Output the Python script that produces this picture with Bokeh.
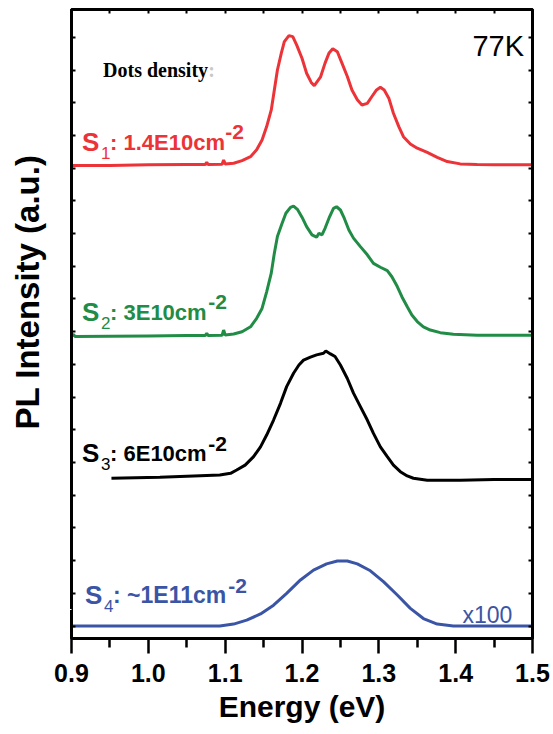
from bokeh.plotting import figure
from bokeh.models import (Range1d, LinearAxis, FixedTicker, Label, Title, NumeralTickFormatter,
                          CustomJSTickFormatter)
from bokeh.embed import file_html
from bokeh.resources import INLINE

# ---------------- data ----------------
energy_s1 = [0.900, 0.950, 1.000, 1.050, 1.074, 1.076, 1.078, 1.096, 1.098, 1.100, 1.111, 1.122,
             1.133, 1.141, 1.148, 1.154, 1.160, 1.164, 1.168, 1.173, 1.177, 1.183, 1.188, 1.193,
             1.200, 1.206, 1.212, 1.216, 1.220, 1.224, 1.230, 1.235, 1.240, 1.246, 1.252, 1.259,
             1.265, 1.272, 1.278, 1.285, 1.291, 1.297, 1.302, 1.307, 1.313, 1.319, 1.326, 1.332,
             1.341, 1.350, 1.363, 1.376, 1.389, 1.406, 1.428, 1.450, 1.500]
intensity_s1 = [14.08, 14.08, 14.10, 14.11, 14.11, 14.18, 14.11, 14.12, 14.25, 14.13, 14.15, 14.23,
                14.35, 14.56, 14.86, 15.27, 15.78, 16.39, 17.00, 17.51, 17.87, 18.05, 18.02, 17.77,
                17.36, 16.90, 16.62, 16.52, 16.65, 16.78, 17.21, 17.51, 17.65, 17.56, 17.21, 16.80,
                16.39, 16.09, 15.93, 15.98, 16.19, 16.39, 16.47, 16.39, 16.14, 15.68, 15.27, 14.96,
                14.74, 14.61, 14.48, 14.33, 14.20, 14.13, 14.11, 14.10, 14.10]

energy_s2 = [0.900, 0.902, 0.905, 0.950, 1.000, 1.050, 1.074, 1.076, 1.078, 1.096, 1.098, 1.100,
             1.111, 1.122, 1.133, 1.141, 1.148, 1.154, 1.160, 1.164, 1.168, 1.174, 1.179, 1.185,
             1.189, 1.194, 1.200, 1.206, 1.213, 1.219, 1.222, 1.226, 1.230, 1.236, 1.241, 1.245,
             1.250, 1.255, 1.261, 1.267, 1.276, 1.285, 1.293, 1.302, 1.311, 1.317, 1.324, 1.330,
             1.337, 1.343, 1.350, 1.358, 1.367, 1.380, 1.397, 1.428, 1.500]
intensity_s2 = [8.85, 8.92, 8.85, 8.86, 8.87, 8.88, 8.88, 8.95, 8.88, 8.89, 9.05, 8.90,
                8.93, 9.00, 9.15, 9.41, 9.71, 10.22, 10.79, 11.40, 11.91, 12.31, 12.62, 12.80,
                12.84, 12.74, 12.50, 12.21, 11.96, 11.89, 12.01, 11.96, 12.16, 12.52, 12.77, 12.82,
                12.72, 12.47, 12.11, 11.86, 11.60, 11.35, 11.09, 10.97, 10.87, 10.68, 10.38, 10.07,
                9.76, 9.51, 9.31, 9.15, 9.05, 8.97, 8.92, 8.89, 8.89]

energy_s3 = [0.952, 1.015, 1.059, 1.093, 1.107, 1.115, 1.126, 1.137, 1.146, 1.154, 1.163, 1.172,
             1.180, 1.189, 1.196, 1.202, 1.211, 1.219, 1.228, 1.231, 1.237, 1.243, 1.250, 1.259,
             1.267, 1.276, 1.285, 1.293, 1.302, 1.311, 1.319, 1.328, 1.337, 1.345, 1.363, 1.406,
             1.450, 1.500]
intensity_s3 = [4.52, 4.55, 4.59, 4.62, 4.67, 4.77, 4.92, 5.18, 5.48, 5.84, 6.30, 6.81,
                7.32, 7.73, 7.98, 8.13, 8.22, 8.29, 8.34, 8.41, 8.32, 8.24, 7.98, 7.57,
                7.12, 6.71, 6.30, 5.89, 5.48, 5.18, 4.92, 4.72, 4.59, 4.52, 4.46, 4.46,
                4.48, 4.48]

energy_s4 = [0.900, 1.000, 1.093, 1.111, 1.128, 1.146, 1.163, 1.180, 1.198, 1.215, 1.232, 1.246,
             1.259, 1.272, 1.289, 1.306, 1.324, 1.341, 1.358, 1.376, 1.397, 1.500]
intensity_s4 = [0.00, 0.00, 0.00, 0.06, 0.18, 0.37, 0.64, 1.00, 1.41, 1.71, 1.90, 1.99,
                1.99, 1.90, 1.69, 1.36, 0.95, 0.54, 0.23, 0.06, 0.00, 0.00]

x_major_ticks = [0.9, 1.0, 1.1, 1.2, 1.3, 1.4, 1.5]
x_minor_ticks = [0.95, 1.05, 1.15, 1.25, 1.35, 1.45]
y_ticks = list(range(0, 19))

RED = "#EC3338"
GREEN = "#218C46"
BLACK = "#000000"
BLUE = "#3B55A6"

X0, X1 = 0.9, 1.5
Y0, Y1 = -0.38, 18.85

p = figure(width=553, height=734, output_backend="svg", toolbar_location=None,
           x_range=Range1d(X0, X1), y_range=Range1d(Y0, Y1),
           min_border_left=71, min_border_right=21, min_border_top=9, min_border_bottom=96)
p.grid.visible = False
p.outline_line_color = "black"
p.outline_line_width = 3
p.background_fill_color = "white"
p.border_fill_color = "white"

FONT = "Liberation Sans"
blank = CustomJSTickFormatter(code="return ''")

# bottom axis
xa = p.xaxis[0]
xa.ticker = FixedTicker(ticks=x_major_ticks, minor_ticks=x_minor_ticks)
xa.formatter = NumeralTickFormatter(format="0.0")
xa.major_tick_in = 0
xa.major_tick_out = 15
xa.minor_tick_in = 0
xa.minor_tick_out = 9
xa.major_tick_line_width = 2.5
xa.minor_tick_line_width = 2.5
xa.axis_line_width = 3
xa.major_label_text_font = FONT
xa.major_label_text_font_size = "25px"
xa.major_label_text_font_style = "bold"
xa.major_label_text_color = "black"
xa.major_label_standoff = 10
xa.axis_label = "Energy (eV)"
xa.axis_label_text_font = FONT
xa.axis_label_text_font_size = "30px"
xa.axis_label_text_font_style = "bold"
xa.axis_label_text_color = "black"
xa.axis_label_standoff = 5

# left axis
ya = p.yaxis[0]
ya.ticker = FixedTicker(ticks=y_ticks)
ya.formatter = blank
ya.major_tick_in = 4
ya.major_tick_out = 0
ya.minor_tick_line_color = None
ya.major_tick_line_width = 2
ya.axis_line_width = 3
ya.major_label_standoff = 0

# invisible spacer between the left axis and the y title (one white tick, no line)
spacer = LinearAxis(ticker=FixedTicker(ticks=[0.5]), formatter=blank, major_tick_in=0,
                    major_tick_out=26, minor_tick_in=0, minor_tick_out=0,
                    axis_line_color=None, major_tick_line_color="white",
                    minor_tick_line_color=None, major_label_standoff=0)
p.add_layout(spacer, "left")

# y title
yt = Title(text="PL Intensity (a.u.)", align="right", vertical_align="bottom",
           text_font=FONT, text_font_size="33px", text_font_style="bold",
           text_color="black", offset=145, standoff=0)
p.add_layout(yt, "left")

# right axis
ra = LinearAxis(ticker=FixedTicker(ticks=y_ticks), formatter=blank, major_tick_in=4,
                major_tick_out=0, minor_tick_line_color=None, major_tick_line_width=2,
                axis_line_width=3, major_label_standoff=0)
p.add_layout(ra, "right")

# top axis
ta = LinearAxis(ticker=FixedTicker(ticks=x_major_ticks + x_minor_ticks), formatter=blank,
                major_tick_in=4, major_tick_out=0, minor_tick_line_color=None,
                major_tick_line_width=2, axis_line_width=3, major_label_standoff=0)
p.add_layout(ta, "above")

# curves
LW = 3
p.line(energy_s1, intensity_s1, color=RED, line_width=LW)
p.line(energy_s2, intensity_s2, color=GREEN, line_width=LW)
p.line(energy_s3, intensity_s3, color=BLACK, line_width=LW)
p.line(energy_s4, intensity_s4, color=BLUE, line_width=LW)

# annotation helper: page pixel -> data
FL, FR, FT, FB = 71.5, 532.0, 9.5, 638.5


def at(px, py):
    x = X0 + (px - FL) / (FR - FL) * (X1 - X0)
    y = Y0 + (FB - py) / (FB - FT) * (Y1 - Y0)
    return x, y


def lab(text, px, py, size, color, bold=True, font=FONT):
    x, y = at(px, py)
    p.add_layout(Label(x=x, y=y, text=text, text_font=font, text_font_size=f"{size}px",
                       text_font_style="bold" if bold else "normal", text_color=color,
                       text_align="left", text_baseline="alphabetic"))


def sample_label(sub, rest, px, py, color, size=22):
    lab("S", px, py, 26, color)
    lab(sub, px + 19, py + 11, 17, color, bold=False)
    lab(rest, px + 28, py, size, color)


sample_label("1", ": 1.4E10cm", 82, 142, RED)
lab("-2", 225, 132, 21, RED)
sample_label("2", ": 3E10cm", 82, 312, GREEN)
lab("-2", 208, 302, 21, GREEN)
sample_label("3", ": 6E10cm", 82, 453, BLACK)
lab("-2", 208, 444, 21, BLACK)
sample_label("4", ": ~1E11cm", 85, 595, BLUE, size=23)
lab("-2", 228, 586, 21, BLUE)

lab("Dots density", 103, 70, 20, "black", font="Liberation Serif")
lab(":", 208, 70, 20, "#c8c8c8", font="Liberation Serif")
lab("77K", 472, 46, 29, "black", bold=False)
lab("x100", 462, 615, 23, BLUE, bold=False)

open("out.html", "w").write(file_html(p, INLINE))
